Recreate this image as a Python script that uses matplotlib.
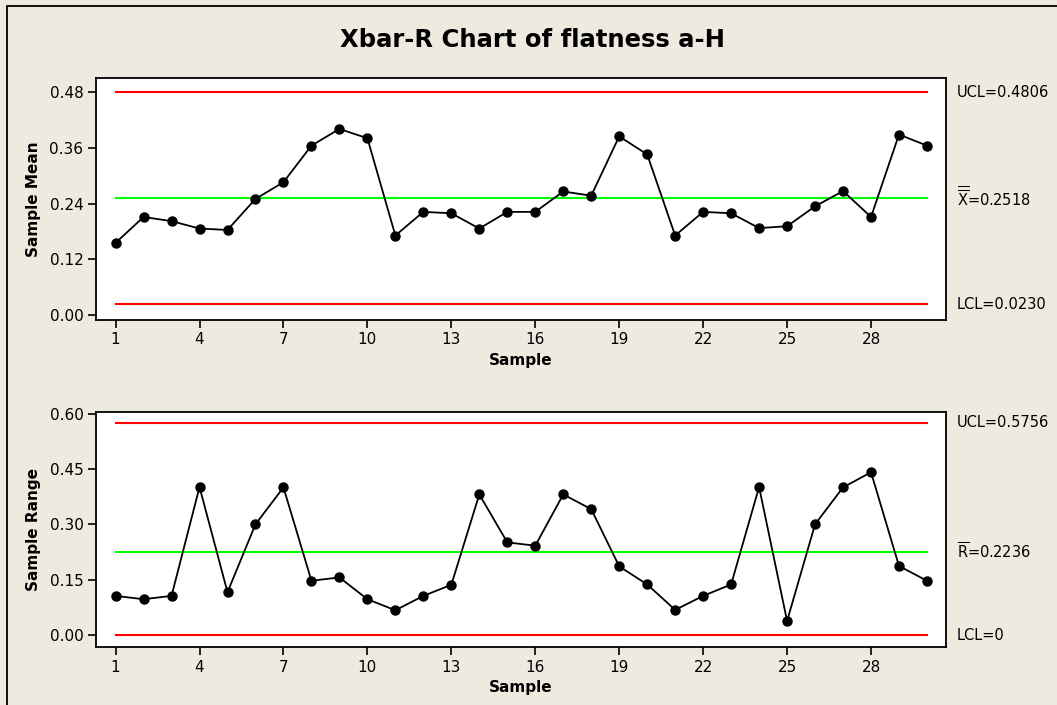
import matplotlib
matplotlib.use("Agg")
import matplotlib.pyplot as plt
from matplotlib.patches import Rectangle

samples = list(range(1, 31))
sample_means = [0.155, 0.211, 0.202, 0.186, 0.183, 0.250, 0.286, 0.365, 0.401, 0.381,
                0.171, 0.222, 0.219, 0.186, 0.222, 0.222, 0.266, 0.257, 0.385, 0.346,
                0.171, 0.222, 0.219, 0.187, 0.191, 0.234, 0.267, 0.211, 0.389, 0.365]
sample_ranges = [0.106, 0.097, 0.106, 0.401, 0.116, 0.300, 0.400, 0.147, 0.156, 0.097,
                 0.067, 0.106, 0.136, 0.381, 0.251, 0.242, 0.381, 0.341, 0.186, 0.137,
                 0.068, 0.106, 0.137, 0.401, 0.038, 0.300, 0.400, 0.441, 0.187, 0.147]
xbar_limits = {"UCL": 0.4806, "CL": 0.2518, "LCL": 0.0230}
r_limits = {"UCL": 0.5756, "CL": 0.2236, "LCL": 0.0}
xticks = [1, 4, 7, 10, 13, 16, 19, 22, 25, 28]
mean_yticks = [0.00, 0.12, 0.24, 0.36, 0.48]
range_yticks = [0.00, 0.15, 0.30, 0.45, 0.60]

plt.rcParams['font.family'] = ['DejaVu Sans']
plt.rcParams['mathtext.fontset'] = 'dejavusans'

W, H = 1057, 705
BG = '#EEEAE0'
fig = plt.figure(figsize=(W / 100, H / 100), dpi=100, facecolor=BG)

# outer frame
fig.patches.append(Rectangle((7 / W, -0.1), 1.2, 1.1 - 6 / H, transform=fig.transFigure,
                             fill=False, edgecolor='black', linewidth=1.3, zorder=0))

fig.text(533 / W, 1 - 40 / H, 'Xbar-R Chart of flatness a-H', ha='center', va='center',
         fontsize=17.5, fontweight='bold')


def px_axes(left, top, right, bottom):
    return fig.add_axes([left / W, 1 - bottom / H, (right - left) / W, (bottom - top) / H])


def draw(ax, values, limits, yticks, ylim, ylabel, cl_label, cl_shift):
    ax.set_facecolor('white')
    ax.plot(samples, [limits["UCL"]] * len(samples), color='#FF0000', lw=1.5, zorder=2)
    ax.plot(samples, [limits["LCL"]] * len(samples), color='#FF0000', lw=1.5, zorder=2)
    ax.plot(samples, [limits["CL"]] * len(samples), color='#00FF00', lw=1.5, zorder=2)
    ax.plot(samples, values, color='black', lw=1.3, marker='o', markersize=6.5, zorder=3)
    ax.set_xlim(0.30, 30.68)
    ax.set_ylim(*ylim)
    ax.set_xticks(xticks)
    ax.set_yticks(yticks)
    ax.set_yticklabels([f'{v:.2f}' for v in yticks])
    ax.tick_params(direction='out', length=6, width=1.2, labelsize=11, colors='black', pad=3)
    for s in ax.spines.values():
        s.set_linewidth(1.3)
    ax.set_xlabel('Sample', fontsize=11, fontweight='bold', labelpad=4)
    ax.set_ylabel(ylabel, fontsize=11, fontweight='bold', labelpad=6)
    tr = ax.get_yaxis_transform()
    ax.annotate(f'UCL={limits["UCL"]:.4f}', xy=(1.0, limits["UCL"]), xycoords=tr,
                xytext=(8, 0), textcoords='offset points', va='center', ha='left', fontsize=10.5)
    ax.annotate(cl_label, xy=(1.0, limits["CL"]), xycoords=tr,
                xytext=(8, cl_shift), textcoords='offset points', va='center', ha='left',
                fontsize=10.5)
    lcl = limits["LCL"]
    lcl_txt = 'LCL=0' if lcl == 0 else f'LCL={lcl:.4f}'
    ax.annotate(lcl_txt, xy=(1.0, lcl), xycoords=tr,
                xytext=(8, 0), textcoords='offset points', va='center', ha='left', fontsize=10.5)


ax1 = px_axes(96, 78, 946, 320)
draw(ax1, sample_means, xbar_limits, mean_yticks, (-0.0114, 0.511), 'Sample Mean',
     r'$\overline{\overline{\mathrm{X}}}$' + f'={xbar_limits["CL"]:.4f}', 0.5)

ax2 = px_axes(96, 412, 946, 647)
draw(ax2, sample_ranges, r_limits, range_yticks, (-0.0325, 0.6043), 'Sample Range',
     r'$\overline{\mathrm{R}}$' + f'={r_limits["CL"]:.4f}', 0.5)

fig.savefig('out.png', dpi=100, facecolor=BG)
